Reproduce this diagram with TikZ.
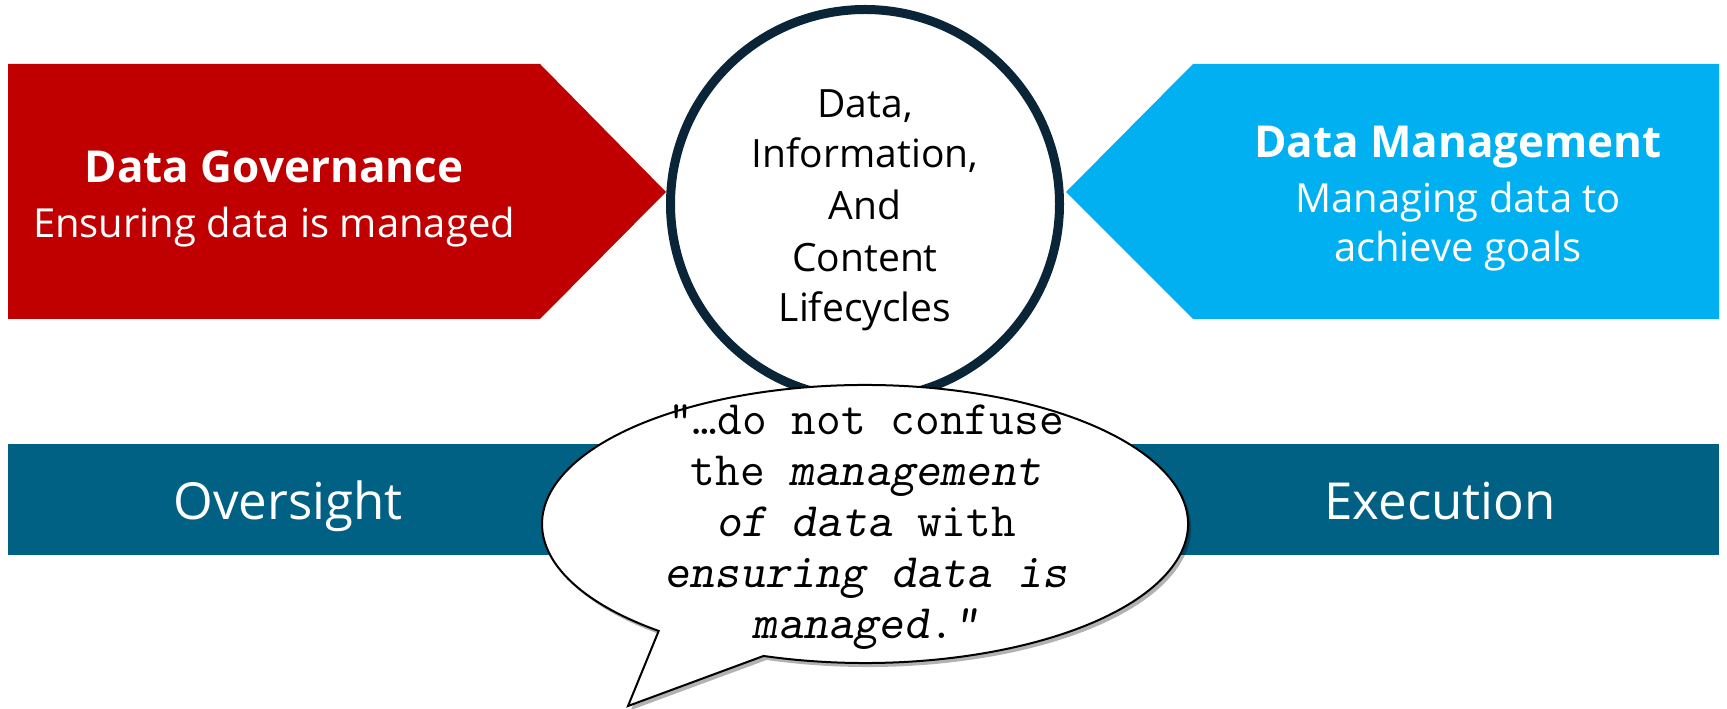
\documentclass[tikz,border=0pt]{standalone}
\usepackage{fontspec}
\setmainfont{Open Sans}
\usetikzlibrary{shadows,calc}
\definecolor{govred}{HTML}{C00000}
\definecolor{mgmtblue}{HTML}{00B0F0}
\definecolor{barteal}{HTML}{006185}
\definecolor{ringnavy}{HTML}{0B2538}
\newcommand\qsl[1]{{\slshape #1}}
\tikzset{
  whitetxt/.style={text=white, inner sep=0pt, anchor=base},
  boldtxt/.style={whitetxt, font=\fontsize{44}{50}\selectfont\bfseries},
  subtxt/.style={whitetxt, font=\fontsize{40}{48}\selectfont},
  bartxt/.style={whitetxt, font=\fontsize{51}{60}\selectfont},
  ringtxt/.style={text=black, inner sep=0pt, anchor=base, font=\fontsize{39}{51}\selectfont},
  quotetxt/.style={text=black, inner sep=0pt, anchor=base, font=\ttfamily\fontsize{48}{51}\selectfont},
  bubble/.style={fill=white, draw=black, line width=2pt, line join=miter,
    drop shadow={shadow xshift=3pt, shadow yshift=-4pt, opacity=0.3, fill=black}}
}
\begin{document}
\begin{tikzpicture}[x=1pt,y=1pt]
\useasboundingbox (0,0) rectangle (1727,709);
% pentagons
\path[fill=govred] (8,645) -- (540,645) -- (666,517) -- (540,390) -- (8,390) -- cycle;
\path[fill=mgmtblue] (1719,645) -- (1193,645) -- (1066,517) -- (1193,390) -- (1719,390) -- cycle;
% bar
\path[fill=barteal] (8,154) rectangle (1719,265);
% circle
\node[circle, draw=ringnavy, fill=white, line width=9pt, minimum size=389pt, inner sep=0pt] (life) at (865,505) {};
\node[ringtxt] (l1) at (865,591) {Data,};
\node[ringtxt] (l2) at (865,541) {Information,};
\node[ringtxt] (l3) at (865,489) {And};
\node[ringtxt] (l4) at (865,437) {Content};
\node[ringtxt] (l5) at (865,387) {Lifecycles};
% governance text
\node[boldtxt] (gov) at (274,526) {Data Governance};
\node[subtxt] (govsub) at (274,471) {Ensuring data is managed};
% management text
\node[boldtxt] (mgmt) at (1458,551) {Data Management};
\node[subtxt] (mgmt1) at (1458,496) {Managing data to};
\node[subtxt] (mgmt2) at (1458,447) {achieve goals};
% bar text
\node[bartxt] (over) at (288,189) {Oversight};
\node[bartxt] (exec) at (1440,189) {Execution};
% speech bubble
\coordinate (bc) at (865,185);
\path[bubble] ($(bc)+(251.7:323pt and 139pt)$) coordinate (bR)
  arc[start angle=251.7, end angle=590.3, x radius=323pt, y radius=139pt] coordinate (bL)
  -- (628,3) coordinate (btip) -- cycle;
\node[quotetxt] (q1) at (866,274) {“…do not confuse};
\node[quotetxt] (q2) at (866,223) {the \qsl{management}};
\node[quotetxt] (q3) at (866,172) {\qsl{of data} with};
\node[quotetxt] (q4) at (866,121) {\qsl{ensuring data is}};
\node[quotetxt] (q5) at (866,70) {\qsl{managed}.\qsl{”}};
\end{tikzpicture}
\end{document}
